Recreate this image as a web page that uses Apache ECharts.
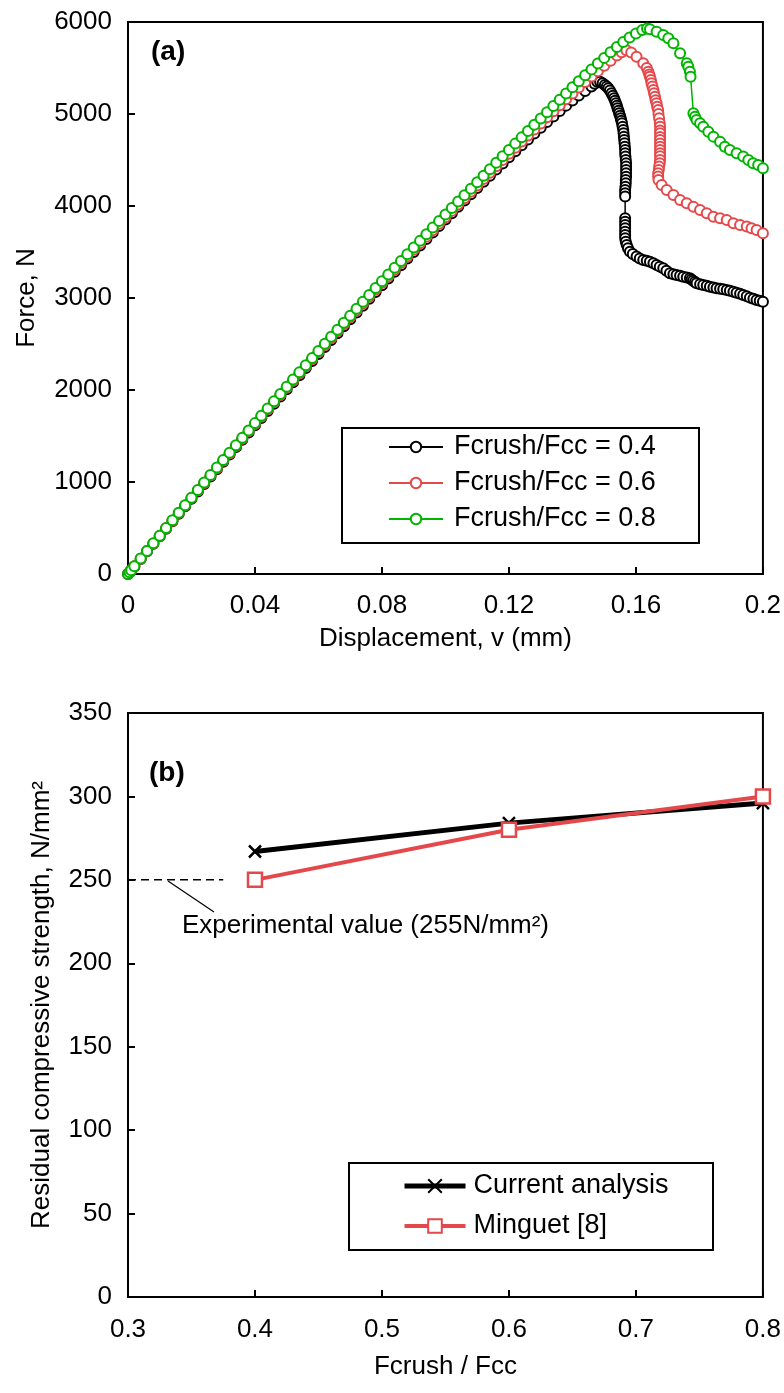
<!DOCTYPE html>
<html><head><meta charset="utf-8">
<script src="https://cdn.jsdelivr.net/npm/echarts@6/dist/echarts.min.js"></script>
<style>html,body{margin:0;padding:0;background:#fff}#c{width:784px;height:1393px}</style>
</head><body><div id="c"></div>
<script>
// ---------- Chart (a) data ----------
const dispGrid = [0,0.0005,0.001,0.002,0.004,0.006,0.008,0.010,0.012,0.014,
  0.016,0.018,0.020,0.022,0.024,0.026,0.028,0.030,0.032,0.034,
  0.036,0.038,0.040,0.042,0.044,0.046,0.048,0.050,0.052,0.054,
  0.056,0.058,0.060,0.062,0.064,0.066,0.068,0.070,0.072,0.074,
  0.076,0.078,0.080,0.082,0.084,0.086,0.088,0.090,0.092,0.094,
  0.096,0.098,0.100,0.102,0.104,0.106,0.108,0.110,0.112,0.114,
  0.116,0.118,0.120,0.122,0.124,0.126,0.128,0.130,0.132,0.134,
  0.136,0.138,0.140,0.142,0.144];
const forceRise04 = [0,18,40,81,164,246,328,410,492,574,
  655,736,817,898,979,1059,1139,1219,1299,1379,
  1458,1537,1616,1695,1773,1851,1929,2007,2084,2161,
  2238,2315,2391,2467,2543,2618,2693,2768,2843,2917,
  2991,3065,3138,3211,3284,3356,3428,3500,3571,3642,
  3713,3783,3853,3922,3991,4059,4127,4195,4263,4330,
  4397,4463,4529,4594,4659,4723,4787,4850,4912,4973,
  5033,5091,5147,5200,5250];
const forceRise06 = [0,19,41,83,166,249,332,414,497,579,
  662,744,825,907,988,1070,1150,1231,1311,1392,
  1471,1551,1630,1710,1788,1867,1945,2024,2101,2179,
  2256,2334,2410,2487,2563,2639,2714,2790,2865,2940,
  3014,3089,3162,3235,3308,3380,3452,3524,3595,3666,
  3737,3807,3877,3947,4016,4085,4154,4223,4294,4362,
  4431,4499,4568,4634,4700,4766,4832,4898,4964,5029,
  5094,5159,5224,5287,5348];
const forceRise08 = [0,20,42,84,168,251,334,417,500,583,
  666,748,830,912,994,1076,1157,1238,1319,1400,
  1480,1560,1640,1720,1799,1878,1957,2036,2114,2192,
  2270,2348,2425,2502,2579,2655,2731,2807,2883,2958,
  3033,3108,3182,3256,3330,3403,3476,3549,3621,3693,
  3765,3836,3907,3978,4048,4118,4188,4258,4330,4400,
  4470,4540,4610,4678,4746,4814,4882,4950,5018,5086,
  5154,5222,5290,5355,5420];
const tail04 = [[0.146,5300],[0.147,5330],[0.1478,5350],[0.1487,5351],[0.1495,5335],[0.1502,5315],
  [0.1508,5298],[0.1513,5279],[0.1518,5255],[0.1523,5225],[0.1527,5198],[0.1531,5170],[0.1534,5143],
  [0.1537,5116],[0.1540,5089],[0.1542,5062],[0.1545,5035],[0.1547,5008],[0.1550,4980],[0.1552,4953],
  [0.1554,4926],[0.1556,4899],[0.1558,4862],[0.1560,4826],[0.1561,4790],[0.1562,4754],[0.1563,4718],
  [0.1564,4682],[0.1565,4645],[0.1566,4609],[0.1566,4573],[0.1567,4537],[0.1568,4500],[0.1569,4464],
  [0.1569,4428],[0.1569,4392],[0.1569,4355],[0.1569,4319],[0.1568,4283],[0.1568,4247],[0.1567,4210],
  [0.1566,4174],[0.1566,4138],[0.1566,4102],[0.1566,3866],[0.1566,3830],[0.1566,3794],[0.1566,3757],
  [0.1566,3721],[0.1566,3685],[0.1566,3649],[0.1568,3612],[0.1571,3576],[0.1575,3540],[0.1581,3504],
  [0.1590,3477],[0.1602,3450],[0.1612,3430],[0.1623,3413],[0.1634,3404],[0.1644,3395],[0.1655,3377],
  [0.1665,3359],[0.1675,3341],[0.1686,3323],[0.1696,3295],[0.1707,3268],[0.1718,3259],[0.1728,3250],
  [0.1739,3241],[0.1749,3232],[0.1760,3223],[0.1770,3214],[0.1775,3200],[0.1780,3187],[0.1786,3173],
  [0.1791,3160],[0.1802,3150],[0.1812,3141],[0.1823,3132],[0.1833,3123],[0.1844,3114],[0.1854,3105],
  [0.1865,3100],[0.1875,3094],[0.1886,3087],[0.1896,3080],[0.1907,3069],[0.1917,3058],[0.1928,3045],
  [0.1938,3033],[0.1949,3018],[0.1959,3004],[0.1970,2991],[0.1980,2978],[0.1990,2969],[0.2000,2960]];
const tail06 = [[0.146,5408],[0.148,5466],[0.150,5525],[0.152,5580],[0.154,5635],[0.1555,5672],
  [0.157,5692],[0.1585,5668],[0.1602,5623],[0.1623,5551],[0.1634,5500],[0.1639,5460],[0.1642,5430],
  [0.1644,5406],[0.1647,5370],[0.1649,5334],[0.1652,5300],[0.1655,5261],[0.1657,5225],[0.1660,5188],
  [0.1662,5150],[0.1665,5116],[0.1667,5080],[0.1670,5044],[0.1671,5000],[0.1673,4953],[0.1675,4900],
  [0.1676,4862],[0.1676,4820],[0.1676,4790],[0.1676,4750],[0.1676,4718],[0.1676,4680],[0.1676,4645],
  [0.1676,4610],[0.1676,4573],[0.1676,4540],[0.1676,4500],[0.1675,4465],[0.1673,4428],[0.1672,4390],
  [0.1670,4355],[0.1670,4320],[0.1671,4283],[0.1681,4228],[0.1697,4174],[0.1718,4120],[0.1739,4066],
  [0.1760,4030],[0.1781,3993],[0.1802,3957],[0.1823,3921],[0.1844,3884],[0.1865,3866],[0.1886,3848],
  [0.1907,3812],[0.1928,3794],[0.1949,3776],[0.1964,3758],[0.1980,3739],[0.2000,3703]];
const tail08 = [[0.146,5485],[0.148,5548],[0.150,5610],[0.152,5670],[0.154,5728],[0.156,5782],
  [0.158,5832],[0.160,5876],[0.162,5912],[0.1635,5930],[0.1644,5921],[0.1665,5895],[0.1686,5859],
  [0.1702,5823],[0.1718,5768],[0.1739,5660],[0.1760,5551],[0.1765,5514],[0.1770,5460],[0.1772,5406],
  [0.1781,5008],[0.1786,4971],[0.1791,4935],[0.1802,4899],[0.1812,4862],[0.1828,4808],[0.1844,4754],
  [0.1865,4699],[0.1880,4645],[0.1896,4609],[0.1917,4573],[0.1938,4537],[0.1954,4500],[0.1969,4464],
  [0.1985,4446],[0.2000,4410]];
const seriesNamesA = ['Fcrush/Fcc = 0.4', 'Fcrush/Fcc = 0.6', 'Fcrush/Fcc = 0.8'];

// ---------- Chart (b) data ----------
const ratioB = [0.4, 0.6, 0.8];
const currentAnalysis = [267, 284, 296];
const minguet = [250, 280, 300];
const seriesNamesB = ['Current analysis', 'Minguet [8]'];
const expRange = [0.3, 0.375];
const expValue = 250;

// ---------- build ----------
const FONT = 'Liberation Sans, Arial, Helvetica, sans-serif';
const RED = '#e5484a', GREEN = '#00b400', BLACK = '#000';
const FS = 26;
const pairs = (xs, ys) => xs.map((x, i) => [x, ys[i]]);

const chart = echarts.init(document.getElementById('c'), null, {renderer: 'canvas'});

const fmt = v => String(+v.toFixed(2));

function axisCommon(extra, labelMargin) {
  return Object.assign({
    type: 'value',
    axisLine: {show: true, onZero: false, lineStyle: {color: BLACK, width: 2}},
    axisTick: {show: true, inside: true, length: 7, lineStyle: {color: BLACK, width: 2}},
    splitLine: {show: false},
    axisLabel: {color: BLACK, fontSize: FS, fontFamily: FONT, margin: labelMargin, formatter: fmt},
    nameTextStyle: {color: BLACK, fontSize: FS, fontFamily: FONT}
  }, extra);
}

const option = {
  animation: false,
  backgroundColor: '#fff',
  grid: [
    {left: 128, top: 22, width: 635, height: 552, show: true, borderColor: BLACK, borderWidth: 2, backgroundColor: 'transparent'},
    {left: 128, top: 713, width: 635, height: 584, show: true, borderColor: BLACK, borderWidth: 2, backgroundColor: 'transparent'}
  ],
  xAxis: [
    axisCommon({gridIndex: 0, min: 0, max: 0.2, interval: 0.04, name: 'Displacement, v (mm)',
      nameLocation: 'middle', nameGap: 52}, 19),
    axisCommon({gridIndex: 1, min: 0.3, max: 0.8, interval: 0.1, name: 'Fcrush / Fcc',
      nameLocation: 'middle', nameGap: 57}, 20)
  ],
  yAxis: [
    axisCommon({gridIndex: 0, min: 0, max: 6000, interval: 1000, name: 'Force, N',
      nameLocation: 'middle', nameGap: 88}, 16),
    axisCommon({gridIndex: 1, min: 0, max: 350, interval: 50, name: 'Residual compressive strength, N/mm²',
      nameLocation: 'middle', nameGap: 73}, 16)
  ],
  legend: [
    {data: seriesNamesA, orient: 'vertical', left: 388, top: 433, padding: 0,
      itemWidth: 54, itemHeight: 13, itemGap: 8,
      textStyle: {color: BLACK, fontSize: 27, lineHeight: 28, fontFamily: FONT, padding: [0, 0, 0, 6]}},
    {data: [
        {name: seriesNamesB[0], lineStyle: {width: 5, color: BLACK}},
        {name: seriesNamesB[1], lineStyle: {width: 4, color: RED}}
      ], orient: 'vertical', left: 402, top: 1172, padding: 0,
      itemWidth: 61, itemHeight: 17, itemGap: 12,
      textStyle: {color: BLACK, fontSize: 27, lineHeight: 28, fontFamily: FONT, padding: [0, 0, 0, 3]}}
  ],
  graphic: [
    {type: 'rect', shape: {x: 342, y: 428, width: 357, height: 115}, style: {fill: 'none', stroke: BLACK, lineWidth: 2}, z: 10},
    {type: 'rect', shape: {x: 349, y: 1163, width: 364, height: 87}, style: {fill: 'none', stroke: BLACK, lineWidth: 2}, z: 10},
    {type: 'text', x: 151, y: 52, style: {text: '(a)', fontSize: 28, fontWeight: 'bold', fontFamily: FONT, fill: BLACK, verticalAlign: 'middle'}},
    {type: 'text', x: 149, y: 773, style: {text: '(b)', fontSize: 28, fontWeight: 'bold', fontFamily: FONT, fill: BLACK, verticalAlign: 'middle'}},
    {type: 'line', shape: {x1: 168, y1: 881, x2: 214, y2: 912}, style: {stroke: BLACK, lineWidth: 1.2}},
    {type: 'text', x: 182, y: 926, style: {text: 'Experimental value (255N/mm²)', fontSize: FS, fontFamily: FONT, fill: BLACK, verticalAlign: 'middle'}}
  ],
  series: [
    {type: 'line', name: seriesNamesA[0], xAxisIndex: 0, yAxisIndex: 0,
      data: pairs(dispGrid, forceRise04).concat(tail04),
      symbol: 'emptyCircle', symbolSize: 10, lineStyle: {color: BLACK, width: 1.5},
      itemStyle: {color: BLACK, borderWidth: 2}, z: 2},
    {type: 'line', name: seriesNamesA[1], xAxisIndex: 0, yAxisIndex: 0,
      data: pairs(dispGrid, forceRise06).concat(tail06),
      symbol: 'emptyCircle', symbolSize: 10, lineStyle: {color: RED, width: 1.5},
      itemStyle: {color: RED, borderWidth: 2}, z: 3},
    {type: 'line', name: seriesNamesA[2], xAxisIndex: 0, yAxisIndex: 0,
      data: pairs(dispGrid, forceRise08).concat(tail08),
      symbol: 'emptyCircle', symbolSize: 10, lineStyle: {color: GREEN, width: 1.5},
      itemStyle: {color: GREEN, borderWidth: 2}, z: 4},
    {type: 'line', name: 'exp', xAxisIndex: 1, yAxisIndex: 1,
      data: expRange.map(x => [x, expValue]), symbol: 'none', silent: true,
      lineStyle: {color: BLACK, width: 1.5, type: [8, 5]}},
    {type: 'line', name: seriesNamesB[0], xAxisIndex: 1, yAxisIndex: 1,
      data: pairs(ratioB, currentAnalysis),
      symbol: 'path://M0,0L10,10M10,0L0,10', symbolSize: 12,
      lineStyle: {color: BLACK, width: 5},
      itemStyle: {color: BLACK, borderColor: BLACK, borderWidth: 2.5}, z: 3},
    {type: 'line', name: seriesNamesB[1], xAxisIndex: 1, yAxisIndex: 1,
      data: pairs(ratioB, minguet),
      symbol: 'rect', symbolSize: 14,
      lineStyle: {color: RED, width: 4},
      itemStyle: {color: '#fff', borderColor: RED, borderWidth: 2.5}, z: 4}
  ]
};
chart.setOption(option);
</script></body></html>
